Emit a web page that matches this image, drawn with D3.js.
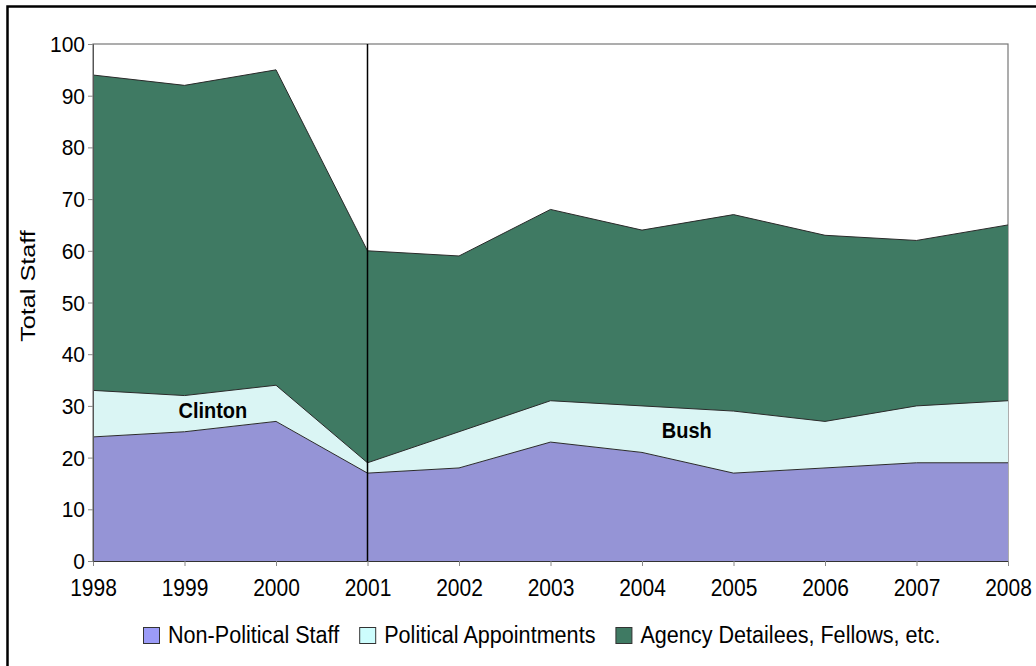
<!DOCTYPE html>
<html>
<head>
<meta charset="utf-8">
<script src="https://cdn.jsdelivr.net/npm/d3@7"></script>
<style>
  body { margin: 0; background: #fff; }
  svg { display: block; }
  text { font-family: "Liberation Sans", Arial, sans-serif; fill: #000; }
</style>
</head>
<body>
<script>
// Values
const years = [1998, 1999, 2000, 2001, 2002, 2003, 2004, 2005, 2006, 2007, 2008];
const nonPolitical = [24, 25, 27, 17, 18, 23, 21, 17, 18, 19, 19];
const politicalAppointments = [9, 7, 7, 2, 7, 8, 9, 12, 9, 11, 12];
const agencyDetailees = [61, 60, 61, 41, 34, 37, 34, 38, 36, 32, 34];
const seriesNames = ["Non-Political Staff", "Political Appointments", "Agency Detailees, Fellows, etc."];
const yTickValues = [0, 10, 20, 30, 40, 50, 60, 70, 80, 90, 100];
const eraLabels = ["Clinton", "Bush"];
const splitYear = 2001;

const w = 1036;
const h = 666;

const areaColors = ["#9594d6", "#daf5f4", "#3f7a63"];
const swatchColors = ["#9b9bf7", "#cdfdfd", "#3f7a63"];

const svg = d3.select("body")
    .append("svg")
    .attr("width", w)
    .attr("height", h);

// outer frame (runs off the right and bottom edges)
svg.append("rect")
    .attr("x", 7.5)
    .attr("y", 6.5)
    .attr("width", 1100)
    .attr("height", 700)
    .attr("fill", "none")
    .attr("stroke", "#000")
    .attr("stroke-width", 2.5);

const xScale = d3.scaleLinear()
    .domain(d3.extent(years))
    .range([93, 1008]);

const yScale = d3.scaleLinear()
    .domain([0, 100])
    .range([561, 44]);

// plot frame
svg.append("rect")
    .attr("x", xScale.range()[0])
    .attr("y", yScale.range()[1])
    .attr("width", xScale.range()[1] - xScale.range()[0])
    .attr("height", yScale.range()[0] - yScale.range()[1])
    .attr("fill", "none")
    .attr("stroke", "#777")
    .attr("stroke-width", 1.2);

// stack the three series
const rows = years.map((y, i) => ({
    year: y,
    [seriesNames[0]]: nonPolitical[i],
    [seriesNames[1]]: politicalAppointments[i],
    [seriesNames[2]]: agencyDetailees[i]
}));
const stacked = d3.stack().keys(seriesNames)(rows);

const area = d3.area()
    .x(d => xScale(d.data.year))
    .y0(d => yScale(d[0]))
    .y1(d => yScale(d[1]));

const topLine = d3.line()
    .x(d => xScale(d.data.year))
    .y(d => yScale(d[1]));

svg.selectAll("path.layer")
    .data(stacked)
    .enter()
    .append("path")
    .attr("class", "layer")
    .attr("d", area)
    .attr("fill", (d, i) => areaColors[i]);

svg.selectAll("path.edge")
    .data(stacked)
    .enter()
    .append("path")
    .attr("class", "edge")
    .attr("d", topLine)
    .attr("fill", "none")
    .attr("stroke", "#2a2a2a")
    .attr("stroke-width", 1);

// administration split
svg.append("line")
    .attr("x1", xScale(splitYear))
    .attr("x2", xScale(splitYear))
    .attr("y1", yScale(100))
    .attr("y2", yScale(0))
    .attr("stroke", "#000")
    .attr("stroke-width", 1.5);

// era labels
svg.append("text")
    .attr("transform", `translate(${xScale(1999.31)},${yScale(27.75)}) scale(1,1.12)`)
    .attr("text-anchor", "middle")
    .style("font-size", "20px")
    .style("font-weight", "bold")
    .text(eraLabels[0]);

svg.append("text")
    .attr("transform", `translate(${xScale(2004.49)},${yScale(23.8)}) scale(1,1.12)`)
    .attr("text-anchor", "middle")
    .style("font-size", "20px")
    .style("font-weight", "bold")
    .text(eraLabels[1]);

// axes
const xAxis = d3.axisBottom(xScale)
    .tickValues(years)
    .tickFormat(d3.format("d"))
    .tickSize(5);

const gx = svg.append("g")
    .attr("transform", `translate(0,${yScale(0)})`)
    .call(xAxis);
gx.select(".domain").attr("stroke", "#333");
gx.selectAll(".tick line").attr("stroke", "#888");
gx.selectAll(".tick text")
    .attr("y", null)
    .attr("dy", null)
    .attr("transform", "translate(0,35) scale(1,1.15)")
    .style("font-size", "21px")
    .attr("fill", "#000");

const yAxis = d3.axisLeft(yScale)
    .tickValues(yTickValues)
    .tickSize(5)
    .tickPadding(3);

const gy = svg.append("g")
    .attr("transform", `translate(${xScale.range()[0]},0)`)
    .call(yAxis);
gy.select(".domain").attr("stroke", "#555");
gy.selectAll(".tick line").attr("stroke", "#888");
gy.selectAll(".tick text")
    .attr("dy", null)
    .attr("transform", "translate(0,7.5) scale(1,1.06)")
    .style("font-size", "21px")
    .attr("fill", "#000");

svg.append("text")
    .attr("transform", "translate(35,286) rotate(-90) scale(1.2,1)")
    .attr("text-anchor", "middle")
    .style("font-size", "21px")
    .text("Total Staff");

// legend
const legend = svg.append("g");
let lx = 143;
seriesNames.forEach((name, i) => {
    legend.append("rect")
        .attr("x", lx + 0.5)
        .attr("y", 627.5)
        .attr("width", 16)
        .attr("height", 16)
        .attr("fill", swatchColors[i])
        .attr("stroke", "#333")
        .attr("stroke-width", 1);
    const t = legend.append("text")
        .attr("transform", `translate(${lx + 25},643) scale(1,1.12)`)
        .style("font-size", "21.6px")
        .text(name);
    lx += 25 + t.node().getComputedTextLength() + 20;
});
</script>
</body>
</html>
